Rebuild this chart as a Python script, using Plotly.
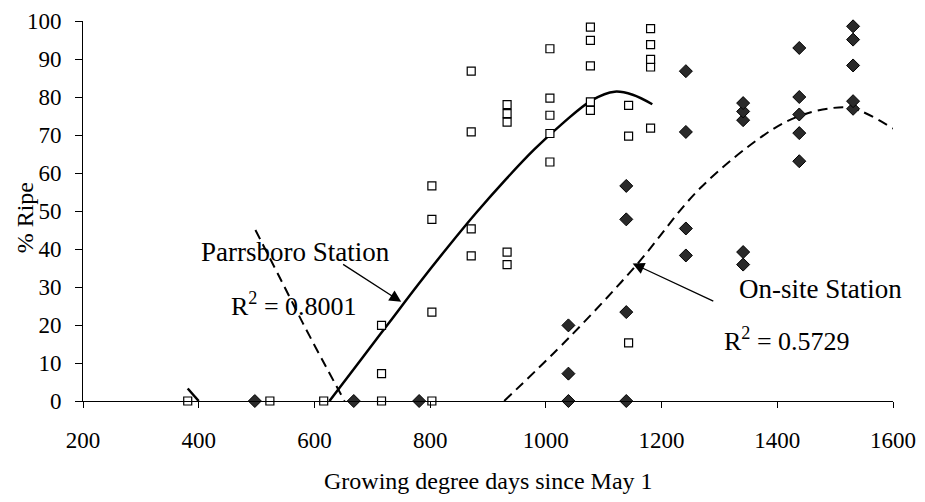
import plotly.graph_objects as go

# Parrsboro Station (open squares): growing degree days vs % ripe
parrsboro_gdd = [381, 523, 616,
                 716, 716, 716,
                 803, 803, 803, 803,
                 871, 871, 871, 871,
                 933, 933, 933, 933, 933,
                 1007, 1007, 1007, 1007, 1007,
                 1077, 1077, 1077, 1077, 1077,
                 1143, 1143, 1143,
                 1181, 1181, 1181, 1181, 1181]
parrsboro_ripe = [0, 0, 0,
                  0, 7.2, 19.9,
                  0, 23.4, 47.8, 56.6,
                  38.2, 45.3, 70.8, 86.8,
                  35.9, 39.2, 73.4, 75.6, 78.0,
                  62.9, 70.4, 75.2, 79.7, 92.7,
                  76.5, 78.7, 88.2, 94.9, 98.4,
                  15.3, 69.7, 77.8,
                  71.8, 87.9, 89.9, 93.8, 98.0]

# On-site Station (filled diamonds)
onsite_gdd = [497, 668, 781,
              1039, 1039, 1039,
              1139, 1139, 1139, 1139,
              1242, 1242, 1242, 1242,
              1341, 1341, 1341, 1341, 1341,
              1438, 1438, 1438, 1438, 1438,
              1531, 1531, 1531, 1531, 1531]
onsite_ripe = [0, 0, 0,
               0, 7.2, 19.9,
               0, 23.4, 47.8, 56.6,
               38.3, 45.4, 70.8, 86.8,
               35.9, 39.2, 73.9, 76.2, 78.4,
               63.1, 70.5, 75.4, 80.0, 92.9,
               76.9, 78.9, 88.3, 95.1, 98.6]

# Polynomial trend lines (shown only where >= 0)
parrsboro_trend_a_x = [381, 400]
parrsboro_trend_a_y = [3.3, 0]
parrsboro_trend_b_x = [626, 680, 730, 780, 830, 880, 930, 980, 1030, 1080, 1119, 1150, 1184]
parrsboro_trend_b_y = [0, 10.8, 20.8, 30.8, 40.4, 49.6, 58.2, 66.2, 73.2, 79.2, 81.4, 80.6, 78.1]

onsite_trend_a_x = [498, 540, 580, 620, 652]
onsite_trend_a_y = [45, 32.5, 20.5, 9, 0]
onsite_trend_b_x = [928, 1041, 1156, 1266, 1381, 1433, 1490, 1531, 1600]
onsite_trend_b_y = [0, 16.8, 35.7, 55.9, 70.4, 74.7, 77.0, 77.0, 71.7]

x_ticks = [200, 400, 600, 800, 1000, 1200, 1400, 1600]
y_ticks = [0, 10, 20, 30, 40, 50, 60, 70, 80, 90, 100]

FONT = "Liberation Serif, Times New Roman, serif"

fig = go.Figure()

solid = dict(color="black", width=2.5)
dashed = dict(color="black", width=2, dash="10px,6px")

fig.add_trace(go.Scatter(x=parrsboro_trend_a_x, y=parrsboro_trend_a_y, mode="lines",
                         line=solid, showlegend=False, hoverinfo="skip"))
fig.add_trace(go.Scatter(x=parrsboro_trend_b_x, y=parrsboro_trend_b_y, mode="lines",
                         line=dict(solid, shape="spline"), showlegend=False, hoverinfo="skip"))
fig.add_trace(go.Scatter(x=onsite_trend_a_x, y=onsite_trend_a_y, mode="lines",
                         line=dict(dashed, shape="spline"), showlegend=False, hoverinfo="skip"))
fig.add_trace(go.Scatter(x=onsite_trend_b_x, y=onsite_trend_b_y, mode="lines",
                         line=dict(dashed, shape="spline"), showlegend=False, hoverinfo="skip"))

fig.add_trace(go.Scatter(x=onsite_gdd, y=onsite_ripe, mode="markers", name="On-site Station",
                         marker=dict(symbol="diamond", size=10, color="#2a2a2a",
                                     line=dict(color="black", width=1)),
                         cliponaxis=False, showlegend=False))
fig.add_trace(go.Scatter(x=parrsboro_gdd, y=parrsboro_ripe, mode="markers", name="Parrsboro Station",
                         marker=dict(symbol="square", size=8, color="white",
                                     line=dict(color="black", width=1.2)),
                         cliponaxis=False, showlegend=False))

annotations = [
    dict(x=567, y=39.1, text="Parrsboro Station", showarrow=False,
         font=dict(size=27)),
    dict(x=564, y=25.3, text="R<sup>2</sup> = 0.8001", showarrow=False,
         font=dict(size=26)),
    dict(x=1474, y=29.6, text="On-site Station", showarrow=False,
         font=dict(size=27)),
    dict(x=1416, y=16.1, text="R<sup>2</sup> = 0.5729", showarrow=False,
         font=dict(size=26)),
    # arrows pointing to the trend lines
    dict(x=750, y=26.1, ax=647, ay=36.2, axref="x", ayref="y", text="",
         showarrow=True, arrowhead=2, arrowsize=1.8, arrowwidth=1.3, arrowcolor="black"),
    dict(x=1150, y=36.2, ax=1292, ay=26.1, axref="x", ayref="y", text="",
         showarrow=True, arrowhead=2, arrowsize=1.8, arrowwidth=1.3, arrowcolor="black"),
    # axis titles
    dict(x=0.5, y=-0.21, xref="paper", yref="paper", xanchor="center", yanchor="middle",
         text="Growing degree days since May 1", showarrow=False, font=dict(size=24)),
    dict(x=(25 - 83) / 810, y=(400.7 - 218) / 380, xref="paper", yref="paper",
         xanchor="center", yanchor="middle", text="% Ripe", showarrow=False,
         textangle=-90, font=dict(size=24)),
]

fig.update_layout(
    width=925, height=502,
    margin=dict(l=83, r=32, t=21, b=101, autoexpand=False),
    paper_bgcolor="white", plot_bgcolor="white",
    font=dict(family=FONT, size=23, color="black"),
    annotations=annotations,
    xaxis=dict(range=[200, 1600], tickvals=x_ticks, showgrid=False, zeroline=False,
               showline=True, linecolor="black", linewidth=1, automargin=False,
               ticks="outside", ticklen=6, tickcolor="black", ticklabelstandoff=12,
               tickfont=dict(size=23)),
    yaxis=dict(range=[0, 100], tickvals=y_ticks, showgrid=False, zeroline=False,
               showline=True, linecolor="black", linewidth=1, automargin=False,
               ticks="outside", ticklen=7, tickcolor="black", ticklabelstandoff=9,
               tickfont=dict(size=23)),
)

fig.write_html("out.html")
